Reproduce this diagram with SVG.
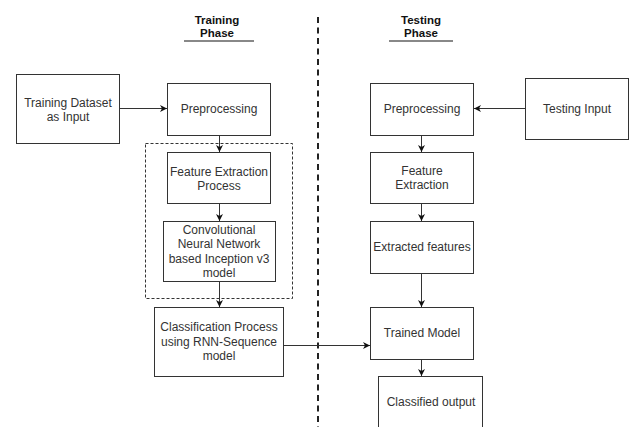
<svg xmlns="http://www.w3.org/2000/svg" width="634" height="427" viewBox="0 0 634 427">
<defs>
<marker id="ah" viewBox="0 0 8 8" refX="7" refY="4" markerWidth="8" markerHeight="8" markerUnits="userSpaceOnUse" orient="auto">
<path d="M0,0.5 L7,4 L0,7.5 L2,4 Z" fill="#111"/>
</marker>
</defs>
<style>
.box{fill:#fff;stroke:#333;stroke-width:1}
.t{font-family:"Liberation Sans",Arial,sans-serif;font-size:12px;fill:#333;text-anchor:middle}
.h{font-family:"Liberation Sans",Arial,sans-serif;font-size:11.5px;font-weight:bold;fill:#111;text-anchor:middle}
.c{stroke:#333;stroke-width:1;fill:none;marker-end:url(#ah)}
</style>
<rect width="634" height="427" fill="#fff"/>
<g id="divider">
<line x1="318" y1="17" x2="318" y2="427" stroke="#222" stroke-width="2" stroke-dasharray="6 4.5"/>
</g>
<g id="training-header">
<text class="h" x="217" y="24">Training</text>
<text class="h" x="217" y="37">Phase</text>
<line x1="184" y1="41" x2="254" y2="41" stroke="#888" stroke-width="2"/>
</g>
<g id="testing-header">
<text class="h" x="421" y="24">Testing</text>
<text class="h" x="421" y="37">Phase</text>
<line x1="389" y1="41" x2="453" y2="41" stroke="#888" stroke-width="2"/>
</g>
<g id="feature-group">
<rect x="145.5" y="143.5" width="147" height="155" fill="none" stroke="#333" stroke-width="1" stroke-dasharray="3 2"/>
</g>
<g id="training-dataset">
<rect class="box" x="16.5" y="74.5" width="103" height="69"/>
<text class="t" x="68" y="107">Training Dataset</text>
<text class="t" x="68" y="121">as Input</text>
</g>
<g id="preprocessing-train">
<rect class="box" x="167.5" y="83.5" width="103" height="52"/>
<text class="t" x="219" y="113">Preprocessing</text>
</g>
<g id="feature-extraction-process">
<rect class="box" x="167.5" y="152.5" width="103" height="51"/>
<text class="t" x="219" y="176">Feature Extraction</text>
<text class="t" x="219" y="190">Process</text>
</g>
<g id="cnn">
<rect class="box" x="163.5" y="221.5" width="112" height="60"/>
<text class="t" x="219" y="234">Convolutional</text>
<text class="t" x="219" y="248">Neural Network</text>
<text class="t" x="219" y="262.5">based Inception v3</text>
<text class="t" x="219" y="277">model</text>
</g>
<g id="classification">
<rect class="box" x="154.5" y="307.5" width="129" height="69"/>
<text class="t" x="219" y="331">Classification Process</text>
<text class="t" x="219" y="345.5">using RNN-Sequence</text>
<text class="t" x="219" y="360">model</text>
</g>
<g id="preprocessing-test">
<rect class="box" x="370.5" y="83.5" width="103" height="52"/>
<text class="t" x="422" y="113">Preprocessing</text>
</g>
<g id="testing-input">
<rect class="box" x="525.5" y="78.5" width="103" height="61"/>
<text class="t" x="577" y="113">Testing Input</text>
</g>
<g id="feature-extraction">
<rect class="box" x="370.5" y="152.5" width="103" height="51"/>
<text class="t" x="422" y="175">Feature</text>
<text class="t" x="422" y="189">Extraction</text>
</g>
<g id="extracted-features">
<rect class="box" x="370.5" y="221.5" width="103" height="52"/>
<text class="t" x="422" y="251">Extracted features</text>
</g>
<g id="trained-model">
<rect class="box" x="370.5" y="307.5" width="103" height="52"/>
<text class="t" x="422" y="337">Trained Model</text>
</g>
<g id="classified-output">
<rect class="box" x="378.5" y="376.5" width="104" height="60"/>
<text class="t" x="431" y="406">Classified output</text>
</g>
<g id="connectors">
<line class="c" x1="119.5" y1="108.5" x2="167" y2="108.5"/>
<line class="c" x1="219.5" y1="135.5" x2="219.5" y2="152"/>
<line class="c" x1="219.5" y1="203.5" x2="219.5" y2="221"/>
<line class="c" x1="219.5" y1="281.5" x2="219.5" y2="307"/>
<line class="c" x1="525.5" y1="108.5" x2="474" y2="108.5"/>
<line class="c" x1="421.5" y1="135.5" x2="421.5" y2="152"/>
<line class="c" x1="421.5" y1="203.5" x2="421.5" y2="221"/>
<line class="c" x1="421.5" y1="273.5" x2="421.5" y2="307"/>
<line class="c" x1="421.5" y1="359.5" x2="421.5" y2="376"/>
<line class="c" x1="283.5" y1="345.5" x2="370" y2="345.5"/>
</g>
</svg>
